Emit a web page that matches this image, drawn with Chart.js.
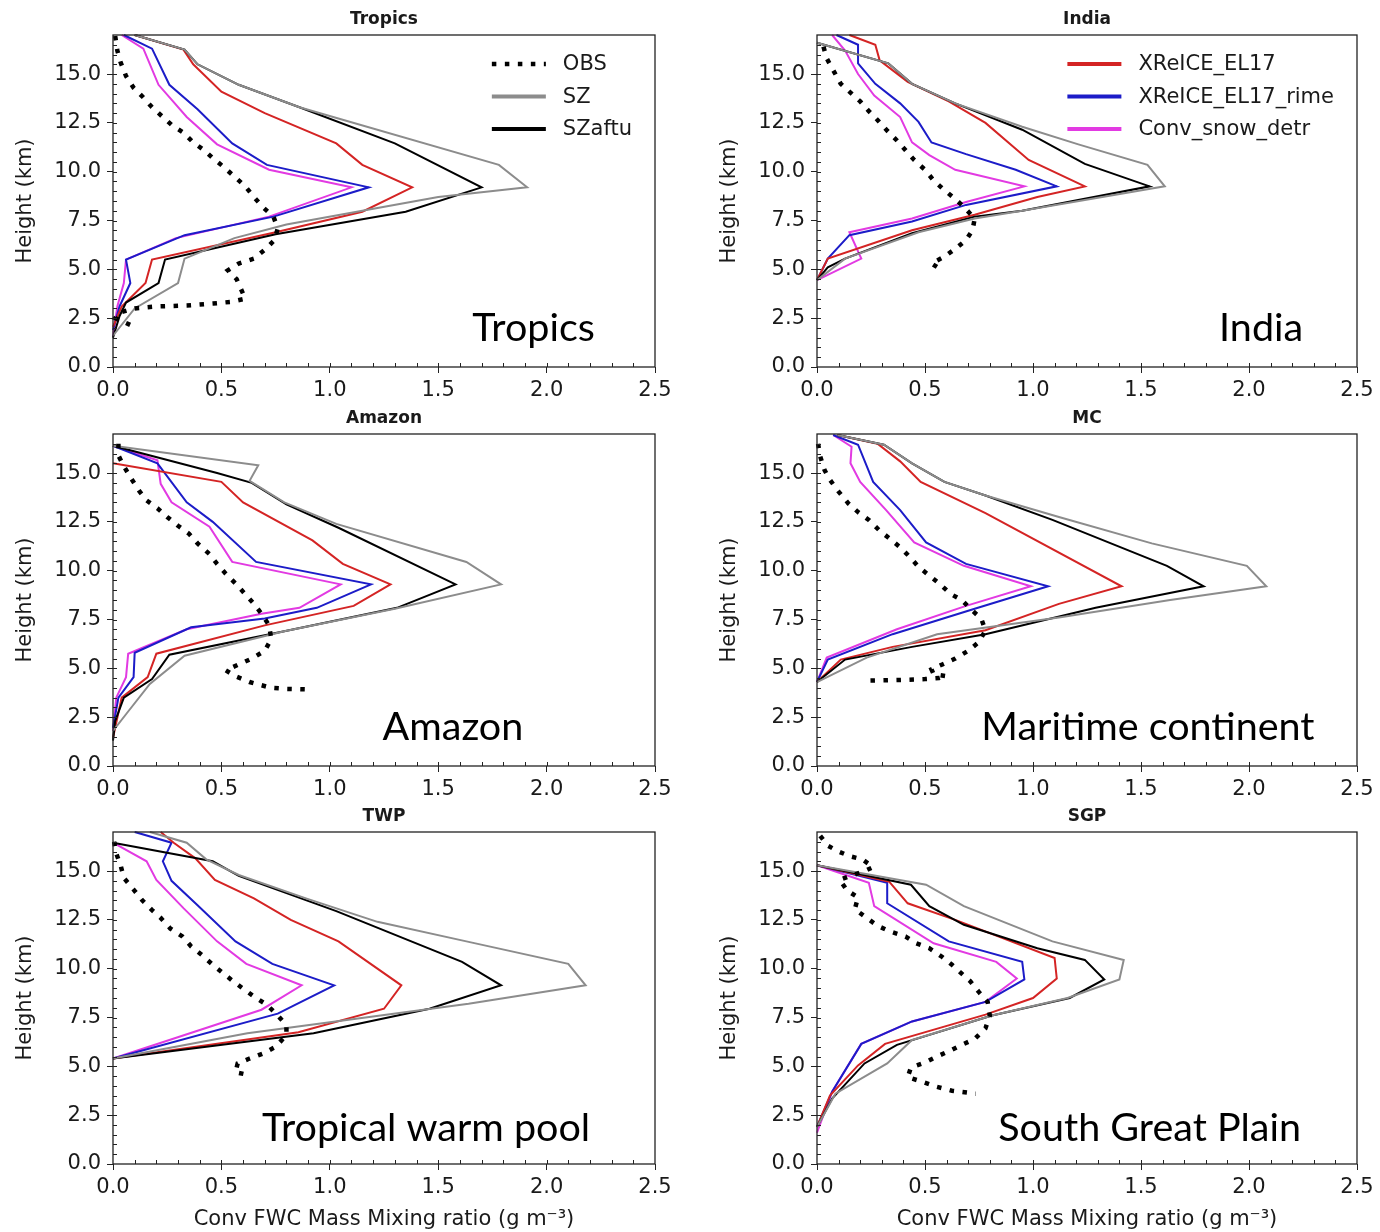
<!DOCTYPE html>
<html><head><meta charset="utf-8">
<script src="https://cdn.jsdelivr.net/npm/chart.js@4/dist/chart.umd.min.js"></script>
<style>
html,body{margin:0;padding:0;background:#fff;}
#wrap{position:relative;width:1380px;height:1232px;overflow:hidden;background:#fff;}
canvas{position:absolute;display:block;}
</style></head><body><div id="wrap">
<canvas id="c0" width="690" height="400" style="left:0;top:0"></canvas>
<canvas id="c1" width="690" height="400" style="left:690px;top:0"></canvas>
<canvas id="c2" width="690" height="400" style="left:0;top:399px"></canvas>
<canvas id="c3" width="690" height="400" style="left:690px;top:399px"></canvas>
<canvas id="c4" width="690" height="435" style="left:0;top:797px"></canvas>
<canvas id="c5" width="690" height="435" style="left:690px;top:797px"></canvas>
</div>
<script>
// ---------------- DATA ----------------
const seriesNames = ['OBS','SZ','SZaftu','XReICE_EL17','XReICE_EL17_rime','Conv_snow_detr'];
const xTicks = [0, 0.5, 1.0, 1.5, 2.0, 2.5];
const yTicks = [0, 2.5, 5.0, 7.5, 10.0, 12.5, 15.0];
const panelTitles = ['Tropics','India','Amazon','MC','TWP','SGP'];
const panelNotes = ['Tropics','India','Amazon','Maritime continent','Tropical warm pool','South Great Plain'];

// Tropics  [FWC, height]
const tropics_OBS = [[0.01,16.95],[0.02,16.2],[0.035,15.6],[0.06,14.9],[0.095,14.3],[0.14,13.8],[0.18,13.3],[0.23,12.8],[0.27,12.4],[0.325,12.0],[0.37,11.5],[0.42,11.1],[0.46,10.7],[0.51,10.25],[0.56,9.75],[0.61,9.25],[0.65,8.7],[0.69,8.2],[0.74,7.7],[0.76,7.1],[0.745,6.5],[0.70,6.0],[0.65,5.55],[0.58,5.3],[0.53,4.95],[0.57,4.5],[0.59,4.0],[0.61,3.5],[0.54,3.33],[0.46,3.25],[0.34,3.15],[0.2,3.1],[0.1,3.0],[0.035,2.8],[0.01,2.5],[0.08,2.15]];
const tropics_SZ = [[0.10,17.0],[0.33,16.25],[0.39,15.5],[0.58,14.45],[0.86,13.3],[1.78,10.35],[1.91,9.2],[1.50,8.7],[1.15,8.0],[0.80,7.3],[0.56,6.6],[0.33,5.55],[0.30,4.3],[0.10,3.0],[0.0,1.6]];
const tropics_SZaftu = [[0.10,17.0],[0.33,16.25],[0.39,15.5],[0.58,14.45],[0.86,13.3],[1.30,11.45],[1.70,9.2],[1.35,7.95],[0.75,6.8],[0.24,5.5],[0.21,4.3],[0.06,3.3],[0.03,2.6],[0.0,1.5]];
const tropics_EL17 = [[0.10,17.0],[0.325,16.25],[0.37,15.5],[0.50,14.1],[0.70,13.0],[1.03,11.45],[1.15,10.35],[1.38,9.2],[1.15,7.95],[0.75,6.9],[0.18,5.5],[0.15,4.3],[0.04,3.1],[0.0,2.05]];
const tropics_rime = [[0.05,17.0],[0.18,16.3],[0.26,14.45],[0.39,13.2],[0.55,11.45],[0.71,10.35],[1.18,9.2],[0.74,7.7],[0.33,6.75],[0.06,5.5],[0.08,4.3],[0.03,3.1],[0.0,1.9]];
const tropics_snow = [[0.04,17.0],[0.14,16.3],[0.21,14.45],[0.34,12.8],[0.48,11.4],[0.72,10.1],[1.10,9.2],[0.72,7.7],[0.29,6.6],[0.06,5.5],[0.05,4.3],[0.02,3.1],[0.0,1.55]];

// India
const india_OBS = [[0.03,16.4],[0.045,15.8],[0.08,15.1],[0.11,14.5],[0.15,14.1],[0.20,13.6],[0.24,13.1],[0.28,12.65],[0.325,12.1],[0.37,11.6],[0.41,11.1],[0.45,10.6],[0.50,10.1],[0.54,9.55],[0.58,9.15],[0.64,8.6],[0.68,8.2],[0.73,7.6],[0.72,7.0],[0.69,6.5],[0.64,6.05],[0.59,5.65],[0.53,5.3],[0.58,4.95]];
const india_SZ = [[0.0,16.6],[0.33,15.55],[0.44,14.5],[0.64,13.5],[0.95,12.3],[1.21,11.4],[1.53,10.35],[1.61,9.25],[0.95,8.0],[0.73,7.6],[0.47,6.9],[0.13,5.55],[0.0,4.45]];
const india_SZaftu = [[0.0,16.6],[0.33,15.55],[0.44,14.5],[0.64,13.5],[0.95,12.15],[1.24,10.4],[1.54,9.25],[0.95,8.0],[0.73,7.7],[0.44,6.85],[0.13,5.55],[0.05,5.1],[0.0,4.45]];
const india_EL17 = [[0.15,17.0],[0.27,16.5],[0.29,15.7],[0.42,14.6],[0.61,13.6],[0.78,12.5],[0.98,10.6],[1.24,9.25],[1.02,8.7],[0.73,7.8],[0.44,7.0],[0.05,5.55],[0.0,4.45]];
const india_rime = [[0.09,17.0],[0.19,16.5],[0.19,15.55],[0.27,14.5],[0.385,13.5],[0.47,12.55],[0.53,11.5],[0.69,10.9],[0.92,10.1],[1.11,9.25],[0.69,8.3],[0.44,7.45],[0.15,6.75],[0.05,5.55],[0.0,4.45]];
const india_snow = [[0.07,17.0],[0.13,16.2],[0.19,15.0],[0.265,13.9],[0.385,12.8],[0.44,11.5],[0.52,10.85],[0.64,10.1],[0.96,9.25],[0.69,8.45],[0.44,7.6],[0.15,6.9],[0.205,5.55],[0.0,4.45]];

// Amazon
const amazon_OBS = [[0.025,16.5],[0.025,15.9],[0.05,15.35],[0.085,14.7],[0.12,14.1],[0.155,13.6],[0.205,13.2],[0.25,12.75],[0.30,12.3],[0.35,11.9],[0.39,11.4],[0.445,10.85],[0.48,10.35],[0.52,9.85],[0.565,9.35],[0.61,8.8],[0.65,8.3],[0.685,7.8],[0.72,7.2],[0.73,6.5],[0.70,5.9],[0.64,5.5],[0.58,5.2],[0.52,4.9],[0.565,4.6],[0.63,4.3],[0.73,4.0],[0.80,3.95],[0.92,3.92]];
const amazon_SZ = [[0.0,16.4],[0.67,15.4],[0.63,14.6],[0.79,13.5],[1.03,12.4],[1.63,10.45],[1.79,9.3],[1.30,8.05],[0.79,6.9],[0.33,5.65],[0.17,4.2],[0.06,2.65],[0.0,1.8]];
const amazon_SZaftu = [[0.0,16.4],[0.48,15.0],[0.64,14.5],[0.80,13.4],[1.04,12.2],[1.58,9.3],[1.31,8.1],[0.79,6.9],[0.26,5.7],[0.18,4.45],[0.05,3.5],[0.01,2.3],[0.0,1.3]];
const amazon_EL17 = [[0.0,15.5],[0.50,14.55],[0.60,13.5],[0.92,11.55],[1.06,10.35],[1.28,9.3],[1.11,8.2],[0.70,7.2],[0.20,5.75],[0.16,4.55],[0.04,3.5],[0.0,1.45]];
const amazon_rime = [[0.0,16.4],[0.205,15.5],[0.34,13.5],[0.46,12.5],[0.66,10.45],[1.19,9.3],[0.94,8.1],[0.70,7.55],[0.36,7.1],[0.10,5.8],[0.095,4.55],[0.025,3.5],[0.0,1.95]];
const amazon_snow = [[0.0,16.4],[0.205,15.65],[0.22,14.45],[0.27,13.5],[0.445,12.25],[0.55,10.45],[1.05,9.3],[0.86,8.1],[0.685,7.8],[0.34,7.0],[0.07,5.75],[0.06,4.55],[0.015,3.5],[0.0,1.8]];

// Maritime continent (MC)
const mc_OBS = [[0.005,16.5],[0.015,15.85],[0.035,15.15],[0.06,14.65],[0.10,14.05],[0.145,13.45],[0.19,13.0],[0.24,12.6],[0.29,12.05],[0.33,11.7],[0.385,11.2],[0.43,10.7],[0.47,10.2],[0.52,9.75],[0.565,9.35],[0.62,8.8],[0.67,8.5],[0.72,7.95],[0.76,7.55],[0.78,6.95],[0.75,6.35],[0.70,5.9],[0.64,5.5],[0.58,5.2],[0.53,4.95],[0.54,4.7],[0.60,4.6],[0.565,4.5],[0.50,4.45],[0.37,4.4],[0.23,4.37]];
const mc_SZ = [[0.095,16.95],[0.31,16.45],[0.44,15.5],[0.59,14.55],[0.78,13.85],[1.12,12.75],[1.55,11.4],[1.99,10.25],[2.08,9.2],[1.635,8.5],[1.12,7.6],[0.556,6.75],[0.23,5.55],[0.0,4.3]];
const mc_SZaftu = [[0.095,16.95],[0.31,16.45],[0.44,15.5],[0.59,14.55],[0.78,13.85],[1.09,12.6],[1.62,10.25],[1.79,9.2],[1.29,8.1],[0.78,6.75],[0.44,6.1],[0.13,5.45],[0.0,4.3]];
const mc_EL17 = [[0.095,16.95],[0.28,16.5],[0.385,15.6],[0.48,14.55],[0.78,12.95],[1.41,9.2],[1.12,8.3],[0.78,6.95],[0.35,6.1],[0.11,5.45],[0.0,4.3]];
const mc_rime = [[0.075,16.95],[0.19,16.45],[0.26,14.55],[0.385,13.1],[0.505,11.45],[0.69,10.35],[1.07,9.2],[0.73,8.05],[0.35,6.75],[0.05,5.45],[0.0,4.3]];
const mc_snow = [[0.075,16.95],[0.16,16.35],[0.155,15.5],[0.2,14.55],[0.32,13.1],[0.45,11.45],[0.68,10.25],[0.99,9.2],[0.69,8.2],[0.37,7.0],[0.045,5.55],[0.0,4.3]];

// Tropical warm pool (TWP)
const twp_OBS = [[0.005,16.5],[0.015,15.9],[0.035,15.3],[0.05,14.65],[0.095,14.05],[0.135,13.5],[0.18,13.0],[0.22,12.6],[0.265,12.05],[0.32,11.65],[0.36,11.15],[0.41,10.7],[0.46,10.2],[0.51,9.75],[0.555,9.35],[0.61,8.9],[0.66,8.5],[0.71,8.15],[0.76,7.6],[0.80,7.1],[0.80,6.6],[0.75,6.0],[0.69,5.65],[0.63,5.4],[0.575,5.15],[0.565,4.7],[0.63,4.55]];
const twp_SZ = [[0.17,17.0],[0.34,16.45],[0.43,15.6],[0.58,14.8],[0.89,13.6],[1.22,12.4],[1.63,11.4],[2.10,10.25],[2.18,9.15],[1.64,8.2],[1.13,7.45],[0.62,6.7],[0.0,5.4]];
const twp_SZaftu = [[0.0,16.45],[0.46,15.5],[0.58,14.75],[1.03,12.95],[1.61,10.35],[1.79,9.15],[1.46,7.95],[0.925,6.7],[0.0,5.4]];
const twp_EL17 = [[0.22,17.0],[0.28,16.45],[0.38,15.65],[0.47,14.55],[0.65,13.6],[0.82,12.5],[1.04,11.4],[1.33,9.15],[1.25,7.95],[0.855,6.75],[0.0,5.4]];
const twp_rime = [[0.10,17.0],[0.27,16.45],[0.23,15.5],[0.27,14.5],[0.39,13.25],[0.565,11.4],[0.735,10.25],[1.02,9.15],[0.84,8.15],[0.76,7.7],[0.0,5.4]];
const twp_snow = [[0.0,16.45],[0.155,15.5],[0.2,14.55],[0.325,13.1],[0.48,11.4],[0.615,10.25],[0.87,9.15],[0.685,7.9],[0.0,5.4]];

// South Great Plain (SGP)
const sgp_OBS = [[0.015,16.8],[0.05,16.3],[0.10,16.0],[0.155,15.75],[0.21,15.6],[0.26,15.2],[0.22,15.0],[0.105,14.55],[0.14,14.0],[0.19,13.65],[0.175,13.05],[0.23,12.6],[0.28,12.2],[0.34,11.9],[0.41,11.65],[0.46,11.3],[0.52,11.05],[0.58,10.6],[0.625,10.2],[0.67,9.75],[0.71,9.35],[0.75,8.8],[0.79,8.3],[0.80,7.6],[0.78,6.95],[0.73,6.4],[0.67,6.1],[0.615,5.8],[0.555,5.5],[0.50,5.2],[0.435,4.95],[0.42,4.45],[0.49,4.2],[0.555,3.95],[0.625,3.75],[0.735,3.6]];
const sgp_SZ = [[0.0,15.3],[0.505,14.3],[0.68,13.2],[1.09,11.4],[1.42,10.45],[1.40,9.45],[1.16,8.5],[0.81,7.6],[0.44,6.35],[0.325,5.15],[0.085,3.6],[0.0,1.9]];
const sgp_SZaftu = [[0.0,15.3],[0.435,14.3],[0.52,13.2],[0.68,12.25],[1.02,11.05],[1.24,10.45],[1.33,9.45],[1.17,8.5],[0.81,7.6],[0.37,6.1],[0.22,5.15],[0.07,3.35],[0.0,1.9]];
const sgp_EL17 = [[0.0,15.3],[0.335,14.45],[0.42,13.35],[0.64,12.5],[1.10,10.55],[1.11,9.5],[1.0,8.5],[0.78,7.65],[0.315,6.15],[0.19,5.05],[0.06,3.5],[0.0,1.9]];
const sgp_rime = [[0.0,15.3],[0.325,14.4],[0.325,13.35],[0.61,11.4],[0.95,10.35],[0.96,9.45],[0.78,8.3],[0.44,7.3],[0.205,6.15],[0.07,3.7],[0.0,1.9]];
const sgp_snow = [[0.0,15.3],[0.24,14.4],[0.265,13.2],[0.54,11.3],[0.83,10.35],[0.925,9.5],[0.78,8.3],[0.44,7.3],[0.205,6.15],[0.07,3.7],[0.0,1.6]];

const panelData = [
  [tropics_OBS, tropics_SZ, tropics_SZaftu, tropics_EL17, tropics_rime, tropics_snow],
  [india_OBS, india_SZ, india_SZaftu, india_EL17, india_rime, india_snow],
  [amazon_OBS, amazon_SZ, amazon_SZaftu, amazon_EL17, amazon_rime, amazon_snow],
  [mc_OBS, mc_SZ, mc_SZaftu, mc_EL17, mc_rime, mc_snow],
  [twp_OBS, twp_SZ, twp_SZaftu, twp_EL17, twp_rime, twp_snow],
  [sgp_OBS, sgp_SZ, sgp_SZaftu, sgp_EL17, sgp_rime, sgp_snow]
];

// ---------------- STYLE / LAYOUT ----------------
const seriesStyle = [
  {color:'#000000', width:4.5, dash:[4.5,8.5]},
  {color:'#8c8c8c', width:2, dash:[]},
  {color:'#000000', width:2, dash:[]},
  {color:'#d42424', width:2, dash:[]},
  {color:'#1c1cc8', width:2, dash:[]},
  {color:'#e23ae2', width:2, dash:[]}
];
const FONT = "'DejaVu Sans', sans-serif";
const TXT = '#1a1a1a';

const panels = [
  {padL:0,  legend:[0,1,2], note:[1.94,2.0], xlabel:false},
  {padL:14, legend:[3,4,5], note:[2.056,2.0], xlabel:false},
  {padL:0,  legend:null, note:[1.568,2.0], xlabel:false},
  {padL:14, legend:null, note:[1.532,2.0], xlabel:false},
  {padL:0,  legend:null, note:[1.444,1.85], xlabel:true},
  {padL:14, legend:null, note:[1.54,1.85], xlabel:true}
];

const decorPlugin = {
  id:'decor',
  afterDatasetsDraw(chart, args, opts){
    const {ctx, chartArea:a} = chart;
    const xs = chart.scales.x, ys = chart.scales.y;
    ctx.save();
    // frame
    ctx.setLineDash([]);
    ctx.strokeStyle = '#222'; ctx.lineWidth = 1.3;
    ctx.strokeRect(a.left, a.top, a.right - a.left, a.bottom - a.top);
    // minor ticks (inward)
    ctx.lineWidth = 1;
    ctx.beginPath();
    for (let i = 1; i < 25; i++) {
      const px = Math.round(xs.getPixelForValue(i / 10)) + 0.5;
      ctx.moveTo(px, a.bottom); ctx.lineTo(px, a.bottom - 4);
    }
    for (let i = 1; i < 34; i++) {
      const py = Math.round(ys.getPixelForValue(i / 2)) + 0.5;
      ctx.moveTo(a.left, py); ctx.lineTo(a.left + 4, py);
    }
    ctx.stroke();
    // panel title
    ctx.fillStyle = TXT;
    ctx.font = "bold 17px " + FONT;
    ctx.textAlign = 'center'; ctx.textBaseline = 'middle';
    ctx.fillText(opts.title, (a.left + a.right) / 2, a.top - 15);
    // region annotation
    ctx.font = "39.5px Lato, 'Open Sans', sans-serif";
    ctx.fillStyle = '#000';
    ctx.fillText(opts.note, xs.getPixelForValue(opts.notePos[0]), ys.getPixelForValue(opts.notePos[1]));
    // legend
    if (opts.legend) {
      ctx.font = "21px " + FONT;
      ctx.textAlign = 'left';
      let maxW = 0;
      opts.legend.forEach(i => { maxW = Math.max(maxW, ctx.measureText(seriesNames[i]).width); });
      const textLeft = a.right - 23 - maxW;
      const lineEnd = textLeft - 17, lineStart = lineEnd - 54;
      opts.legend.forEach((i, k) => {
        const yy = a.top + 29 + k * 32.5;
        const st = seriesStyle[i];
        ctx.beginPath();
        ctx.strokeStyle = st.color;
        ctx.lineWidth = (i === 0) ? 4.5 : 4;
        ctx.setLineDash(st.dash);
        ctx.lineCap = 'butt';
        ctx.moveTo(lineStart, yy); ctx.lineTo(lineEnd, yy);
        ctx.stroke();
        ctx.setLineDash([]);
        ctx.fillStyle = TXT;
        ctx.fillText(seriesNames[i], textLeft, yy + 1);
      });
    }
    ctx.restore();
  }
};

panels.forEach((p, idx) => {
  const canvas = document.getElementById('c' + idx);
  const H = canvas.height;
  const xH = H - 35 - 332;
  const datasets = panelData[idx].map((pts, si) => ({
    label: seriesNames[si],
    data: pts.map(([x, y]) => ({x, y})),
    showLine: true,
    borderColor: seriesStyle[si].color,
    backgroundColor: seriesStyle[si].color,
    borderWidth: seriesStyle[si].width,
    borderDash: seriesStyle[si].dash,
    borderCapStyle: 'butt',
    borderJoinStyle: 'miter',
    pointRadius: 0,
    pointHoverRadius: 0,
    tension: 0,
    clip: false
  }));
  new Chart(canvas, {
    type: 'scatter',
    data: {datasets},
    options: {
      responsive: false,
      animation: false,
      devicePixelRatio: 1,
      events: [],
      layout: {padding: {left: p.padL + 1, right: idx % 2 === 0 ? 35 : 23, top: 35, bottom: 0}},
      plugins: {
        legend: {display: false},
        tooltip: {enabled: false},
        title: {display: false},
        decor: {title: panelTitles[idx], note: panelNotes[idx], notePos: p.note, legend: p.legend}
      },
      scales: {
        x: {
          type: 'linear', min: 0, max: 2.5,
          afterBuildTicks: s => { s.ticks = xTicks.map(v => ({value: v})); },
          afterFit: s => { s.height = xH; },
          ticks: {callback: v => Number(v).toFixed(1), font: {family: FONT, size: 21}, color: TXT, padding: 5, maxRotation: 0, autoSkip: false},
          grid: {drawOnChartArea: false, drawTicks: true, tickLength: 6, color: '#222', lineWidth: 1},
          border: {display: false},
          title: {display: p.xlabel, text: 'Conv FWC Mass Mixing ratio (g m\u207B\u00B3)', font: {family: FONT, size: 21}, color: TXT, padding: {top: 0, bottom: 0}}
        },
        y: {
          type: 'linear', min: 0, max: 17,
          afterBuildTicks: s => { s.ticks = yTicks.map(v => ({value: v})); },
          afterFit: s => { s.width = 112; },
          ticks: {callback: v => Number(v).toFixed(1), font: {family: FONT, size: 21}, color: TXT, padding: 6},
          grid: {drawOnChartArea: false, drawTicks: true, tickLength: 6, color: '#222', lineWidth: 1},
          border: {display: false},
          title: {display: true, text: 'Height (km)', font: {family: FONT, size: 21}, color: TXT, padding: {top: 12, bottom: 0}}
        }
      }
    },
    plugins: [decorPlugin]
  });
});
</script>
</body></html>
